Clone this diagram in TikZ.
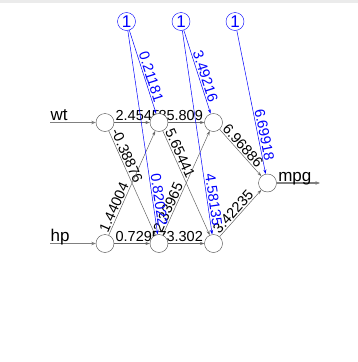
\documentclass[tikz,border=0pt]{standalone}
\usepackage{fontspec}
\setmainfont{Liberation Sans}
\usetikzlibrary{arrows.meta,backgrounds}

\def\weightfont{\fontsize{14.5}{14.5}\selectfont}
\def\namefont{\fontsize{17}{17}\selectfont}
\colorlet{syncol}{black!60}
\colorlet{biascol}{blue}

\begin{document}
\begin{tikzpicture}[x=1pt, y=-1pt,
    neuron/.style={circle, draw=black!70, fill=white, minimum size=18pt, inner sep=0pt},
    biasneuron/.style={neuron, draw=biascol, text=biascol, font=\namefont},
    synapse/.style={draw=syncol, line width=0.5pt, -{Stealth[length=4.5pt,width=3pt]}},
    biassynapse/.style={synapse, draw=biascol, -{Stealth[length=4.5pt,width=3pt,fill=biascol]}},
    entry/.style={draw=black!50, line width=1.2pt, -{Stealth[length=4.5pt,width=3.5pt,fill=black]}},
    weight/.style={font=\weightfont, sloped, inner sep=1.2pt},
  ]
  \useasboundingbox (0,0) rectangle (358,362);
  \fill[black!8] (0,0) rectangle (358,2.5);

  % Neurons
  \node[neuron] (i1) at (105,122.5) {};
  \node[neuron] (i2) at (105,243.5) {};
  \node[neuron] (h11) at (159,122.5) {};
  \node[neuron] (h12) at (159,243.5) {};
  \node[neuron] (h21) at (213.5,122.5) {};
  \node[neuron] (h22) at (213.5,243.5) {};
  \node[neuron] (o1) at (267.5,183) {};
  % Bias neurons
  \node[biasneuron] (b1) at (126.5,21.5) {1};
  \node[biasneuron] (b2) at (181,21.5) {1};
  \node[biasneuron] (b3) at (235,21.5) {1};

  \coordinate (wtin) at (50,122.5);
  \coordinate (hpin) at (50,243.5);
  \coordinate (mpgout) at (320,183);

  \begin{pgfonlayer}{background}
    % Input and output arrows
    \draw[entry] (wtin) -- (i1)
      node[pos=0, anchor=base west, inner sep=0pt, yshift=2pt, font=\namefont] {wt};
    \draw[entry] (hpin) -- (i2)
      node[pos=0, anchor=base west, inner sep=0pt, yshift=2pt, font=\namefont] {hp};
    \draw[entry] (o1) -- (mpgout)
      node[pos=0, anchor=base west, inner sep=1pt, yshift=2pt, font=\namefont] {mpg};
    % Weights written from the start of the line
    \foreach \src/\dst/\w in {
        i1/h11/2.4545,
        i1/h12/-0.38876,
        i2/h11/1.44004,
        i2/h12/0.7295,
        h11/h22/5.65441,
        h12/h21/2.33965,
        h21/o1/6.96886,
        h22/o1/3.42235%
      } {
        \draw[synapse] (\src) -- (\dst) node[weight, pos=0, anchor=south west] {\w};
      }
    % Weights written up to the end of the line
    \foreach \src/\dst/\w in {h11/h21/85.809, h12/h22/73.302} {
        \draw[synapse] (\src) -- (\dst) node[weight, pos=1, anchor=south east] {\w};
      }
    % Bias weights
    \foreach \src/\dst/\w/\p in {
        b1/h11/0.21181/0.89,
        b1/h12/0.82022/0.97,
        b2/h21/3.49216/0.89,
        b2/h22/4.58135/0.97,
        b3/o1/6.69918/0.925%
      } {
        \draw[biassynapse] (\src) -- (\dst)
          node[weight, text=biascol, pos=\p, anchor=south east] {\w};
      }
  \end{pgfonlayer}
\end{tikzpicture}
\end{document}
